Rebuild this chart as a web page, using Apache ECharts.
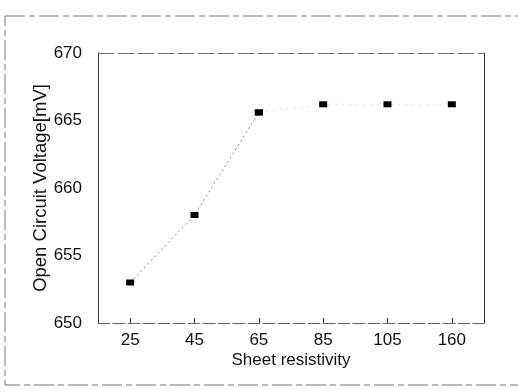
<!DOCTYPE html>
<html>
<head>
<meta charset="utf-8">
<script src="https://cdn.jsdelivr.net/npm/echarts@6/dist/echarts.min.js"></script>
<style>
  html, body { margin: 0; padding: 0; background: #fff; }
  #chart { width: 518px; height: 392px; }
</style>
</head>
<body>
<div id="chart"></div>
<script>
const categories = ['25', '45', '65', '85', '105', '160'];
const voltage = [653.0, 658.0, 665.6, 666.2, 666.2, 666.2];
const yTicks = { min: 650, max: 670, interval: 5 };

const font = '"Liberation Sans", Arial, sans-serif';

// rising part is drawn as a visible dotted line, the flat part almost faded (scan)
const risePart = voltage.map((v, i) => (i <= 2 ? v : null));
const flatPart = voltage.map((v, i) => (i >= 2 ? v : null));

const chart = echarts.init(document.getElementById('chart'));

const option = {
    animation: false,
    backgroundColor: '#fff',
    grid: { left: 98, right: 34, top: 53, bottom: 69 },
    graphic: [
        {
            type: 'rect',
            shape: { x: 5, y: 16, width: 520, height: 369 },
            style: { fill: 'none', stroke: '#777', lineWidth: 1, lineDash: [20, 4, 6, 4] },
            silent: true
        }
    ],
    xAxis: [
        {
            type: 'category',
            data: categories,
            boundaryGap: true,
            name: 'Sheet resistivity',
            nameLocation: 'middle',
            nameGap: 29,
            nameMoveOverlap: false,
            nameTextStyle: { fontFamily: font, fontSize: 17, color: '#111' },
            axisLine: { show: true, lineStyle: { color: '#666', width: 1, type: [12, 3] } },
            axisTick: { show: true, alignWithLabel: true, inside: true, length: 5, lineStyle: { color: '#333' } },
            axisLabel: { fontFamily: font, fontSize: 17, color: '#111', margin: 9 },
            splitLine: { show: false }
        },
        {
            type: 'category',
            data: categories,
            position: 'top',
            axisLine: { show: true, lineStyle: { color: '#777', width: 1, type: [16, 4] } },
            axisTick: { show: false },
            axisLabel: { show: false },
            splitLine: { show: false }
        }
    ],
    yAxis: [
        {
            type: 'value',
            min: yTicks.min,
            max: yTicks.max,
            interval: yTicks.interval,
            name: 'Open Circuit Voltage[mV]',
            nameLocation: 'middle',
            nameGap: 48,
            nameMoveOverlap: false,
            nameTextStyle: { fontFamily: font, fontSize: 18.5, color: '#111' },
            axisLine: { show: true, lineStyle: { color: '#333', width: 1 } },
            axisTick: { show: false },
            axisLabel: { fontFamily: font, fontSize: 17, color: '#111', margin: 16 },
            splitLine: { show: false }
        },
        {
            type: 'value',
            min: yTicks.min,
            max: yTicks.max,
            interval: yTicks.interval,
            position: 'right',
            axisLine: { show: true, lineStyle: { color: '#333', width: 1 } },
            axisTick: { show: false },
            axisLabel: { show: false },
            splitLine: { show: false }
        }
    ],
    series: [
        {
            type: 'line',
            data: flatPart,
            symbol: 'rect',
            symbolSize: [8, 6],
            itemStyle: { color: '#000' },
            lineStyle: { color: '#ddd', width: 1, type: [2, 5] }
        },
        {
            type: 'line',
            data: risePart,
            symbol: 'rect',
            symbolSize: [8, 6],
            itemStyle: { color: '#000' },
            lineStyle: { color: '#888', width: 1, type: [2, 3] }
        }
    ]
};

chart.setOption(option);
</script>
</body>
</html>
